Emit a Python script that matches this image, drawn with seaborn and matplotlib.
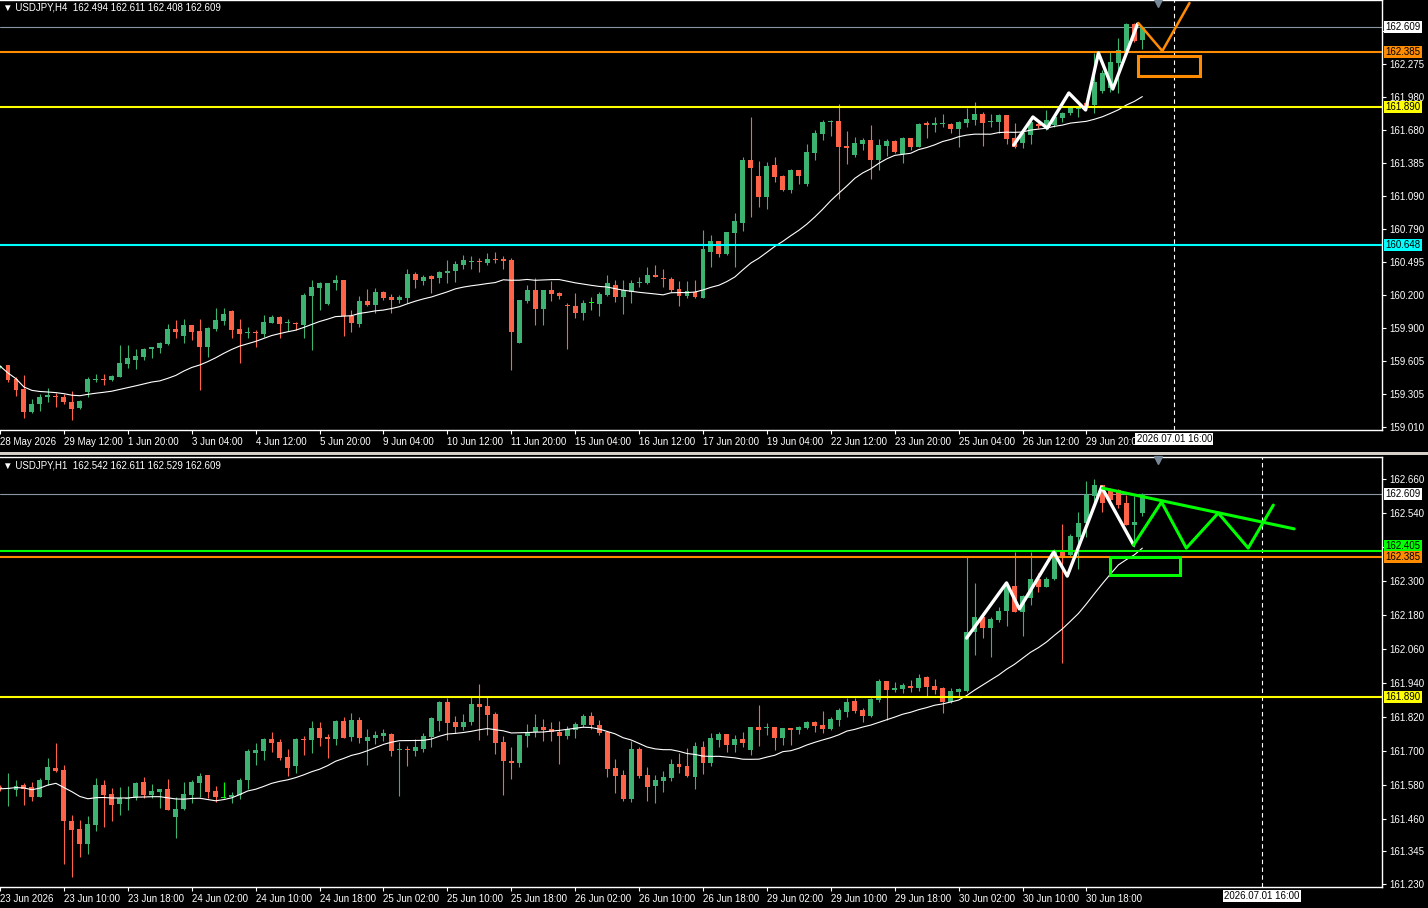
import numpy as np
import pandas as pd
import seaborn as sns
import matplotlib.pyplot as plt
from matplotlib.patches import Rectangle
from matplotlib.transforms import blended_transform_factory

# ---- USDJPY H4 candles (open, high, low, close) ----
h4_open = [159.550, 159.568, 159.442, 159.352, 159.145, 159.217, 159.280, 159.289,
           159.280, 159.235, 159.181, 159.325, 159.433, 159.442, 159.433, 159.460,
           159.577, 159.613, 159.640, 159.712, 159.721, 159.757, 159.892, 159.829,
           159.928, 159.874, 159.730, 159.892, 159.964, 160.054, 159.892, 159.856,
           159.865, 159.847, 159.946, 160.000, 159.946, 159.946, 159.928, 160.189,
           160.261, 160.117, 160.306, 160.333, 160.009, 159.937, 160.144, 160.108,
           160.225, 160.180, 160.153, 160.171, 160.387, 160.324, 160.369, 160.351,
           160.396, 160.414, 160.468, 160.495, 160.504, 160.486, 160.522, 160.522,
           160.513, 159.766, 160.144, 160.243, 160.072, 160.243, 160.216, 160.099,
           160.099, 160.036, 160.126, 160.117, 160.198, 160.288, 160.180, 160.225,
           160.306, 160.306, 160.378, 160.342, 160.342, 160.252, 160.189, 160.225,
           160.171, 160.585, 160.684, 160.567, 160.756, 160.846, 161.413, 161.269,
           161.080, 161.368, 161.269, 161.143, 161.323, 161.197, 161.476, 161.647,
           161.755, 161.764, 161.539, 161.458, 161.557, 161.593, 161.413, 161.539,
           161.584, 161.467, 161.611, 161.530, 161.746, 161.728, 161.737, 161.737,
           161.692, 161.746, 161.773, 161.827, 161.755, 161.755, 161.818, 161.611,
           161.566, 161.638, 161.737, 161.701, 161.728, 161.791, 161.836, 161.872,
           161.926, 161.908, 162.034, 162.061, 162.286, 162.385, 162.637, 162.494]
h4_high = [159.568, 159.570, 159.460, 159.478, 159.262, 159.307, 159.361, 159.316,
           159.307, 159.334, 159.253, 159.460, 159.487, 159.487, 159.478, 159.748,
           159.748, 159.712, 159.721, 159.730, 159.775, 159.937, 159.973, 159.982,
           159.928, 159.982, 159.910, 160.081, 160.081, 160.063, 159.982, 159.910,
           159.883, 160.018, 160.018, 160.009, 159.982, 159.955, 160.216, 160.330,
           160.315, 160.306, 160.378, 160.333, 160.063, 160.189, 160.252, 160.261,
           160.234, 160.207, 160.198, 160.432, 160.405, 160.378, 160.378, 160.414,
           160.513, 160.504, 160.558, 160.549, 160.531, 160.576, 160.585, 160.549,
           160.531, 160.153, 160.288, 160.351, 160.243, 160.324, 160.225, 160.126,
           160.216, 160.153, 160.180, 160.225, 160.378, 160.333, 160.333, 160.333,
           160.360, 160.450, 160.468, 160.432, 160.360, 160.324, 160.324, 160.333,
           160.783, 160.738, 160.684, 160.765, 160.936, 161.440, 161.800, 161.404,
           161.395, 161.440, 161.278, 161.332, 161.323, 161.557, 161.683, 161.773,
           161.773, 161.917, 161.674, 161.620, 161.611, 161.728, 161.602, 161.602,
           161.593, 161.620, 161.611, 161.746, 161.764, 161.800, 161.827, 161.746,
           161.764, 161.881, 161.935, 161.845, 161.827, 161.827, 161.818, 161.746,
           161.674, 161.773, 161.773, 161.863, 161.818, 161.845, 161.899, 161.899,
           161.953, 162.376, 162.223, 162.385, 162.511, 162.646, 162.646, 162.611]
h4_low = [159.541, 159.415, 159.289, 159.091, 159.136, 159.154, 159.235, 159.190,
          159.217, 159.073, 159.172, 159.280, 159.415, 159.388, 159.424, 159.460,
          159.541, 159.532, 159.613, 159.631, 159.676, 159.748, 159.811, 159.766,
          159.793, 159.343, 159.640, 159.874, 159.928, 159.811, 159.586, 159.811,
          159.730, 159.820, 159.946, 159.811, 159.874, 159.883, 159.811, 159.703,
          160.063, 160.108, 160.243, 159.829, 159.865, 159.910, 160.099, 160.036,
          160.153, 160.036, 160.126, 160.126, 160.261, 160.288, 160.216, 160.306,
          160.306, 160.315, 160.432, 160.432, 160.405, 160.468, 160.486, 160.432,
          159.523, 159.766, 160.126, 159.928, 159.928, 160.144, 160.162, 159.712,
          159.991, 159.973, 160.063, 160.009, 160.189, 160.135, 160.027, 160.126,
          160.270, 160.297, 160.360, 160.270, 160.225, 160.099, 160.171, 160.171,
          160.171, 160.450, 160.540, 160.558, 160.450, 160.774, 160.900, 160.990,
          160.972, 161.215, 161.134, 161.116, 161.197, 161.179, 161.413, 161.593,
          161.629, 161.062, 161.377, 161.440, 161.503, 161.242, 161.323, 161.449,
          161.476, 161.386, 161.503, 161.530, 161.611, 161.665, 161.710, 161.656,
          161.530, 161.710, 161.728, 161.539, 161.710, 161.656, 161.557, 161.521,
          161.521, 161.557, 161.701, 161.683, 161.710, 161.755, 161.818, 161.800,
          161.881, 161.836, 162.016, 162.025, 162.016, 162.376, 162.475, 162.408]
h4_close = [159.559, 159.433, 159.343, 159.145, 159.217, 159.280, 159.298, 159.280,
            159.235, 159.172, 159.244, 159.442, 159.435, 159.433, 159.469, 159.586,
            159.631, 159.649, 159.712, 159.730, 159.766, 159.892, 159.865, 159.928,
            159.865, 159.730, 159.901, 159.973, 160.027, 159.883, 159.847, 159.865,
            159.856, 159.955, 160.000, 159.937, 159.955, 159.937, 160.198, 160.270,
            160.306, 160.306, 160.333, 160.009, 159.946, 160.144, 160.108, 160.225,
            160.171, 160.153, 160.180, 160.387, 160.333, 160.360, 160.342, 160.405,
            160.414, 160.477, 160.513, 160.504, 160.495, 160.522, 160.513, 160.504,
            159.865, 160.153, 160.243, 160.072, 160.243, 160.207, 160.189, 160.097,
            160.036, 160.126, 160.126, 160.207, 160.306, 160.180, 160.243, 160.306,
            160.308, 160.378, 160.360, 160.340, 160.243, 160.189, 160.234, 160.180,
            160.612, 160.684, 160.567, 160.765, 160.864, 161.413, 161.341, 161.080,
            161.359, 161.260, 161.143, 161.323, 161.269, 161.485, 161.656, 161.755,
            161.764, 161.530, 161.521, 161.566, 161.593, 161.413, 161.548, 161.584,
            161.485, 161.611, 161.530, 161.737, 161.728, 161.746, 161.746, 161.692,
            161.755, 161.782, 161.827, 161.746, 161.764, 161.818, 161.602, 161.530,
            161.656, 161.755, 161.719, 161.773, 161.800, 161.836, 161.890, 161.890,
            161.899, 162.115, 162.196, 162.295, 162.403, 162.637, 162.484, 162.609]

# ---- USDJPY H1 candles ----
h1_open = [161.573, 161.566, 161.562, 161.580, 161.573, 161.537, 161.598, 161.640,
           161.633, 161.453, 161.424, 161.371, 161.439, 161.580, 161.548, 161.513,
           161.530, 161.534, 161.590, 161.545, 161.555, 161.566, 161.467, 161.495,
           161.545, 161.587, 161.615, 161.559, 161.537, 161.537, 161.545, 161.598,
           161.693, 161.700, 161.742, 161.732, 161.679, 161.647, 161.742, 161.739,
           161.781, 161.749, 161.742, 161.806, 161.749, 161.810, 161.735, 161.746,
           161.753, 161.760, 161.704, 161.706, 161.700, 161.707, 161.749, 161.806,
           161.873, 161.803, 161.785, 161.803, 161.866, 161.859, 161.831, 161.732,
           161.665, 161.658, 161.753, 161.767, 161.785, 161.778, 161.767, 161.753,
           161.774, 161.792, 161.824, 161.792, 161.767, 161.640, 161.615, 161.530,
           161.707, 161.615, 161.576, 161.594, 161.605, 161.654, 161.647, 161.608,
           161.714, 161.658, 161.739, 161.760, 161.721, 161.742, 161.704, 161.785,
           161.781, 161.785, 161.746, 161.781, 161.774, 161.781, 161.803, 161.792,
           161.778, 161.810, 161.838, 161.877, 161.845, 161.824, 161.880, 161.947,
           161.916, 161.919, 161.930, 161.923, 161.962, 161.930, 161.923, 161.873,
           161.909, 161.912, 162.121, 162.174, 162.135, 162.163, 162.195, 162.283,
           162.191, 162.241, 162.308, 162.280, 162.308, 162.403, 162.393, 162.456,
           162.506, 162.601, 162.640, 162.622, 162.622, 162.576, 162.499, 162.542]
h1_high = [161.580, 161.622, 161.598, 161.587, 161.590, 161.605, 161.675, 161.728,
           161.651, 161.474, 161.456, 161.470, 161.605, 161.598, 161.569, 161.573,
           161.576, 161.590, 161.608, 161.583, 161.566, 161.601, 161.537, 161.590,
           161.598, 161.622, 161.615, 161.576, 161.590, 161.555, 161.605, 161.707,
           161.728, 161.746, 161.767, 161.742, 161.707, 161.746, 161.753, 161.806,
           161.803, 161.760, 161.810, 161.820, 161.834, 161.820, 161.778, 161.771,
           161.778, 161.764, 161.732, 161.718, 161.742, 161.764, 161.820, 161.877,
           161.887, 161.824, 161.831, 161.891, 161.937, 161.891, 161.838, 161.753,
           161.714, 161.757, 161.795, 161.831, 161.813, 161.803, 161.806, 161.788,
           161.803, 161.831, 161.838, 161.810, 161.767, 161.672, 161.633, 161.735,
           161.714, 161.643, 161.615, 161.629, 161.672, 161.693, 161.711, 161.732,
           161.735, 161.764, 161.767, 161.760, 161.757, 161.767, 161.785, 161.863,
           161.799, 161.785, 161.781, 161.781, 161.788, 161.806, 161.806, 161.841,
           161.820, 161.852, 161.887, 161.887, 161.852, 161.887, 161.954, 161.947,
           161.944, 161.940, 161.951, 161.972, 161.965, 161.954, 161.926, 161.923,
           161.923, 162.386, 162.294, 162.191, 162.174, 162.209, 162.294, 162.403,
           162.251, 162.403, 162.329, 162.315, 162.414, 162.502, 162.467, 162.545,
           162.654, 162.661, 162.640, 162.629, 162.626, 162.605, 162.601, 162.611]
h1_low = [161.559, 161.506, 161.541, 161.509, 161.523, 161.537, 161.580, 161.626,
          161.301, 161.255, 161.325, 161.336, 161.417, 161.431, 161.453, 161.474,
          161.492, 161.527, 161.534, 161.534, 161.499, 161.492, 161.393, 161.492,
          161.516, 161.537, 161.534, 161.520, 161.534, 161.516, 161.530, 161.566,
          161.651, 161.668, 161.696, 161.668, 161.612, 161.622, 161.686, 161.693,
          161.718, 161.675, 161.721, 161.746, 161.735, 161.728, 161.651, 161.725,
          161.735, 161.682, 161.541, 161.647, 161.682, 161.696, 161.714, 161.771,
          161.739, 161.764, 161.774, 161.792, 161.739, 161.757, 161.689, 161.545,
          161.601, 161.643, 161.714, 161.749, 161.735, 161.735, 161.654, 161.742,
          161.746, 161.785, 161.778, 161.757, 161.608, 161.552, 161.523, 161.520,
          161.605, 161.523, 161.516, 161.555, 161.594, 161.622, 161.608, 161.566,
          161.619, 161.647, 161.714, 161.696, 161.696, 161.714, 161.686, 161.718,
          161.757, 161.704, 161.721, 161.721, 161.760, 161.778, 161.767, 161.764,
          161.774, 161.788, 161.820, 161.834, 161.803, 161.820, 161.873, 161.810,
          161.909, 161.905, 161.909, 161.912, 161.894, 161.901, 161.834, 161.870,
          161.891, 161.909, 162.039, 162.099, 162.032, 162.156, 162.142, 162.191,
          162.106, 162.216, 162.262, 162.280, 162.304, 162.011, 162.386, 162.343,
          162.456, 162.569, 162.545, 162.580, 162.559, 162.499, 162.421, 162.529]
h1_close = [161.566, 161.569, 161.576, 161.566, 161.537, 161.598, 161.643, 161.629,
            161.453, 161.421, 161.371, 161.442, 161.580, 161.545, 161.509, 161.534,
            161.534, 161.587, 161.545, 161.559, 161.566, 161.492, 161.495, 161.548,
            161.590, 161.612, 161.555, 161.537, 161.537, 161.545, 161.598, 161.700,
            161.704, 161.742, 161.728, 161.675, 161.640, 161.742, 161.740, 161.781,
            161.746, 161.742, 161.806, 161.746, 161.810, 161.746, 161.749, 161.757,
            161.764, 161.700, 161.706, 161.704, 161.714, 161.753, 161.817, 161.873,
            161.799, 161.785, 161.803, 161.866, 161.856, 161.827, 161.728, 161.665,
            161.658, 161.757, 161.767, 161.785, 161.774, 161.767, 161.753, 161.778,
            161.795, 161.824, 161.792, 161.764, 161.636, 161.612, 161.530, 161.707,
            161.612, 161.573, 161.598, 161.608, 161.654, 161.643, 161.612, 161.718,
            161.658, 161.746, 161.760, 161.721, 161.742, 161.728, 161.785, 161.774,
            161.783, 161.746, 161.781, 161.774, 161.785, 161.803, 161.788, 161.778,
            161.813, 161.845, 161.873, 161.841, 161.824, 161.884, 161.947, 161.916,
            161.923, 161.933, 161.923, 161.958, 161.926, 161.916, 161.873, 161.912,
            161.919, 162.121, 162.174, 162.135, 162.167, 162.195, 162.287, 162.191,
            162.248, 162.308, 162.280, 162.308, 162.403, 162.389, 162.460, 162.506,
            162.605, 162.640, 162.576, 162.587, 162.569, 162.499, 162.509, 162.609]

# axis texts
h4_dates = ["28 May 2026", "29 May 12:00", "1 Jun 20:00", "3 Jun 04:00", "4 Jun 12:00",
            "5 Jun 20:00", "9 Jun 04:00", "10 Jun 12:00", "11 Jun 20:00", "15 Jun 04:00",
            "16 Jun 12:00", "17 Jun 20:00", "19 Jun 04:00", "22 Jun 12:00", "23 Jun 20:00",
            "25 Jun 04:00", "26 Jun 12:00", "29 Jun 20:00"]
h1_dates = ["23 Jun 2026", "23 Jun 10:00", "23 Jun 18:00", "24 Jun 02:00", "24 Jun 10:00",
            "24 Jun 18:00", "25 Jun 02:00", "25 Jun 10:00", "25 Jun 18:00", "26 Jun 02:00",
            "26 Jun 10:00", "26 Jun 18:00", "29 Jun 02:00", "29 Jun 10:00", "29 Jun 18:00",
            "30 Jun 02:00", "30 Jun 10:00", "30 Jun 18:00"]
# tick marks; the ones hidden behind price boxes carry no text
h4_prices = [162.570, 162.275, 161.980, 161.680, 161.385, 161.090, 160.790, 160.495,
             160.200, 159.900, 159.605, 159.305, 159.010]
h4_hidden = [162.570]
h1_prices = [162.660, 162.540, 162.420, 162.300, 162.180, 162.060, 161.940, 161.820,
             161.700, 161.580, 161.460, 161.345, 161.230]
h1_hidden = [162.420]

# levels and hand drawn marks (bar index, price)
h4_levels = {"162.385": (162.385, "#ff8c00"), "161.890": (161.890, "#ffff00"),
             "160.648": (160.648, "#00ffff")}
h1_levels = {"162.405": (162.405, "#00ff00"), "162.385": (162.385, "#ff8c00"),
             "161.890": (161.890, "#ffff00")}
h4_wave_x = [126.9, 129.3, 131.1, 133.8, 135.9, 137.5, 139.3, 142.4]
h4_wave_y = [161.548, 161.800, 161.700, 162.016, 161.863, 162.376, 162.052, 162.637]
h4_plan_x = [142.5, 145.5, 148.9]
h4_plan_y = [162.646, 162.394, 162.826]
h4_box = (142.5, 150.25, 162.169, 162.349)
h1_wave_x = [121.0, 126.0, 127.6, 131.9, 133.6, 137.9, 141.9]
h1_wave_y = [162.099, 162.294, 162.202, 162.403, 162.318, 162.633, 162.428]
h1_trend_x = [138.0, 162.0]
h1_trend_y = [162.629, 162.485]
h1_plan_x = [141.9, 145.4, 148.5, 152.5, 156.25, 159.4]
h1_plan_y = [162.428, 162.580, 162.417, 162.541, 162.417, 162.569]
h1_box = (139.0, 147.75, 162.322, 162.386)

sns.set_theme(style="ticks", rc={"axes.facecolor": "black", "figure.facecolor": "black",
                                 "axes.edgecolor": "white", "axes.grid": False})
plt.rcParams['font.family'] = ['Liberation Sans', 'DejaVu Sans']

BULL, BEAR, DOJI = "#3cb371", "#ff6347", "#00ff00"
W, H = 1428, 908


def draw_panel(ax, o, h, l, c, ylim, prices, hidden, dates, title, vline):
    df = pd.DataFrame({"open": o, "high": h, "low": l, "close": c})
    df["idx"] = np.arange(len(df))
    px = (ylim[1] - ylim[0]) / 430
    colors = np.where(df.close > df.open, BULL, np.where(df.close < df.open, BEAR, DOJI))
    ax.vlines(df.idx, df.low, df.high, colors=colors, lw=0.8, zorder=2)
    body = (df.close - df.open).abs().clip(lower=px)
    bottom = df[["open", "close"]].min(axis=1) - np.where(df.close == df.open, px / 2, 0)
    ax.bar(df.idx, body, bottom=bottom, width=0.62, color=colors, lw=0, zorder=3)
    # 20 period moving average
    df["ma"] = df.close.rolling(20, min_periods=1).mean()
    sns.lineplot(data=df, x="idx", y="ma", ax=ax, color="white", lw=0.8, zorder=4)
    ax.set_xlabel("")
    ax.set_ylabel("")

    ax.set_xlim(0, 173)
    ax.set_ylim(*ylim)
    ax.axhline(c[-1], color="#8a96a3", lw=0.8, zorder=1)
    ax.axvline(vline, color="white", lw=0.8, ls=(0, (4, 3)), zorder=1)

    ax.yaxis.tick_right()
    ax.set_yticks(prices)
    ax.set_yticklabels(["" if p in hidden else f"{p:.3f}" for p in prices])
    ax.tick_params(axis="y", colors="white", labelsize=7, length=3, pad=2, width=0.8)
    ax.set_xticks(np.arange(len(dates)) * 8)
    ax.set_xticklabels(dates)
    ax.tick_params(axis="x", colors="white", labelsize=7, length=3, pad=2, width=0.8)
    for lbl in ax.get_xticklabels():
        lbl.set_horizontalalignment("left")
    for s in ["top", "right", "bottom"]:
        ax.spines[s].set_color("white")
        ax.spines[s].set_linewidth(1)
    ax.spines["left"].set_visible(False)

    tr = blended_transform_factory(ax.transAxes, ax.transData)
    ax.text(1.0025, c[-1], f"{c[-1]:.3f}", transform=tr, ha="left", va="center", fontsize=7,
            color="black", bbox=dict(boxstyle="square,pad=0.12", fc="white", ec="none"),
            zorder=11, clip_on=False)
    ax.text(0.002, 1 - 8 / 430, title, transform=ax.transAxes, ha="left", va="center",
            fontsize=7, color="white")
    trx = blended_transform_factory(ax.transData, ax.transAxes)
    ax.text(vline, -9 / 430, "2026.07.01 16:00", transform=trx, ha="center", va="center",
            fontsize=7, color="black", bbox=dict(boxstyle="square,pad=0.15", fc="white", ec="none"),
            clip_on=False, zorder=11)
    ax.plot([145], [1 - 3 / 430], marker="v", ms=6, color="#778899", transform=trx,
            clip_on=False, zorder=12)
    return tr


def add_levels(ax, tr, levels, nudge=None):
    nudge = nudge or {}
    for txt, (lvl, col) in levels.items():
        ax.axhline(lvl, color=col, lw=1.5, zorder=5)
        ax.text(1.0025, lvl + nudge.get(txt, 0), txt, transform=tr, ha="left", va="center",
                fontsize=7, color="black",
                bbox=dict(boxstyle="square,pad=0.12", fc=col, ec="none"),
                zorder=11, clip_on=False)


fig = plt.figure(figsize=(W / 100, H / 100), dpi=100)
ax1 = fig.add_axes([0, 1 - 430 / H, 1382 / W, 430 / H])
ax2 = fig.add_axes([0, 1 - 887 / H, 1382 / W, 430 / H])

tr1 = draw_panel(ax1, h4_open, h4_high, h4_low, h4_close, (158.983, 162.853), h4_prices,
                 h4_hidden, h4_dates, "\u25bc USDJPY,H4  162.494 162.611 162.408 162.609", 147)
add_levels(ax1, tr1, h4_levels)
ax1.plot(h4_wave_x, h4_wave_y, color="white", lw=2.4, solid_capstyle="round", zorder=8)
ax1.plot(h4_plan_x, h4_plan_y, color="#ff8c00", lw=1.8, zorder=8)
ax1.add_patch(Rectangle((h4_box[0], h4_box[2]), h4_box[1] - h4_box[0], h4_box[3] - h4_box[2],
                        fill=False, ec="#ff8c00", lw=2.2, zorder=8))

tr2 = draw_panel(ax2, h1_open, h1_high, h1_low, h1_close, (161.219, 162.739), h1_prices,
                 h1_hidden, h1_dates, "\u25bc USDJPY,H1  162.542 162.611 162.529 162.609", 158)
# the green tag sits just above the orange one so both stay readable
add_levels(ax2, tr2, h1_levels, nudge={"162.405": 0.019})
ax2.plot(h1_wave_x, h1_wave_y, color="white", lw=2.4, solid_capstyle="round", zorder=8)
ax2.plot(h1_trend_x, h1_trend_y, color="#00ff00", lw=2.2, zorder=8)
ax2.plot(h1_plan_x, h1_plan_y, color="#00ff00", lw=2.2, zorder=8)
ax2.add_patch(Rectangle((h1_box[0], h1_box[2]), h1_box[1] - h1_box[0], h1_box[3] - h1_box[2],
                        fill=False, ec="#00ff00", lw=2.2, zorder=8))

# window separator between the two charts
fig.add_artist(Rectangle((0, 1 - 455 / H), 1, 3 / H, transform=fig.transFigure,
                         color="#d4d0c8", lw=0))

fig.savefig("out.png", dpi=100, facecolor="black")
